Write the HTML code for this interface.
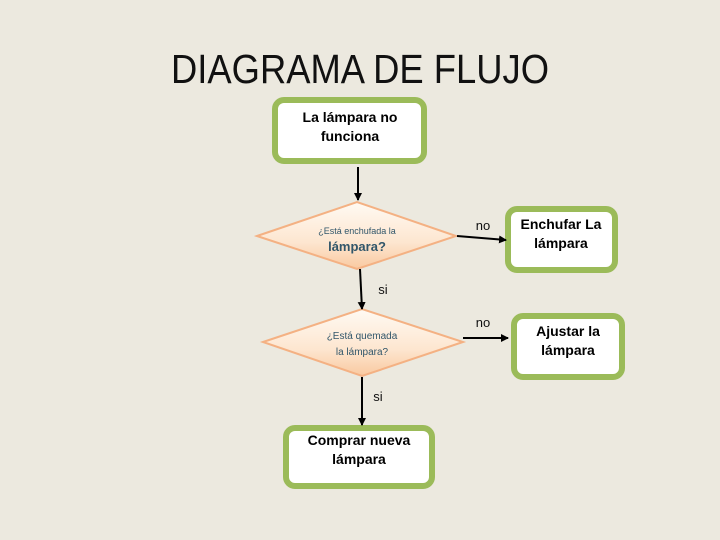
<!DOCTYPE html>
<html><head><meta charset="utf-8"><style>
html,body{margin:0;padding:0;background:#ece9df;}
svg{display:block;}
text{font-family:"Liberation Sans",sans-serif;}
</style></head><body>
<svg width="720" height="540" viewBox="0 0 720 540" xmlns="http://www.w3.org/2000/svg">
<defs>
<linearGradient id="dg" x1="0" y1="0" x2="0" y2="1">
<stop offset="0" stop-color="#fffaf3"/><stop offset="0.6" stop-color="#fde6d0"/><stop offset="1" stop-color="#f9c9a0"/>
</linearGradient>
<marker id="ar" markerWidth="8" markerHeight="8" refX="7" refY="4" orient="auto" markerUnits="userSpaceOnUse">
<path d="M0,0 L8,4 L0,8 z" fill="#000"/></marker>
</defs>
<rect width="720" height="540" fill="#ece9df"/>
<text x="171" y="83" font-size="41" fill="#111" textLength="378" lengthAdjust="spacingAndGlyphs">DIAGRAMA DE FLUJO</text>

<g fill="#fff" stroke="#9bbb59" stroke-width="6">
<rect x="275" y="100" width="149" height="61" rx="9"/>
<rect x="508" y="209" width="107" height="61" rx="9"/>
<rect x="514" y="316" width="108" height="61" rx="9"/>
<rect x="286" y="428" width="146" height="58" rx="9"/>
</g>
<g fill="url(#dg)" stroke="#f4b183" stroke-width="2">
<polygon points="257,236 357,202 456,236 357,269"/>
<polygon points="263,342 362,309 463,342 362,376"/>
</g>
<g stroke="#000" stroke-width="2" fill="none">
<line x1="358" y1="167" x2="358" y2="200" marker-end="url(#ar)"/>
<line x1="457" y1="236" x2="506" y2="240" marker-end="url(#ar)"/>
<line x1="360" y1="269" x2="362" y2="309" marker-end="url(#ar)"/>
<line x1="463" y1="338" x2="508" y2="338" marker-end="url(#ar)"/>
<line x1="362" y1="377" x2="362" y2="425" marker-end="url(#ar)"/>
</g>
<g font-size="14" fill="#000" text-anchor="middle" font-weight="bold">
<text x="350" y="122">La lámpara no</text>
<text x="350" y="141">funciona</text>
<text x="561" y="229">Enchufar La</text>
<text x="561" y="248">lámpara</text>
<text x="568" y="336">Ajustar la</text>
<text x="568" y="355">lámpara</text>
<text x="359" y="445">Comprar nueva</text>
<text x="359" y="464">lámpara</text>
</g>
<g fill="#31566a" text-anchor="middle">
<text x="357" y="234" font-size="9">¿Está enchufada la</text>
<text x="357" y="251" font-size="13" font-weight="bold">lámpara?</text>
<text x="362" y="339" font-size="10">¿Está quemada</text>
<text x="362" y="355" font-size="10">la lámpara?</text>
</g>
<g font-size="13" fill="#111" text-anchor="middle">
<text x="483" y="230">no</text>
<text x="383" y="294">si</text>
<text x="483" y="327">no</text>
<text x="378" y="401">si</text>
</g>
</svg>
</body></html>
